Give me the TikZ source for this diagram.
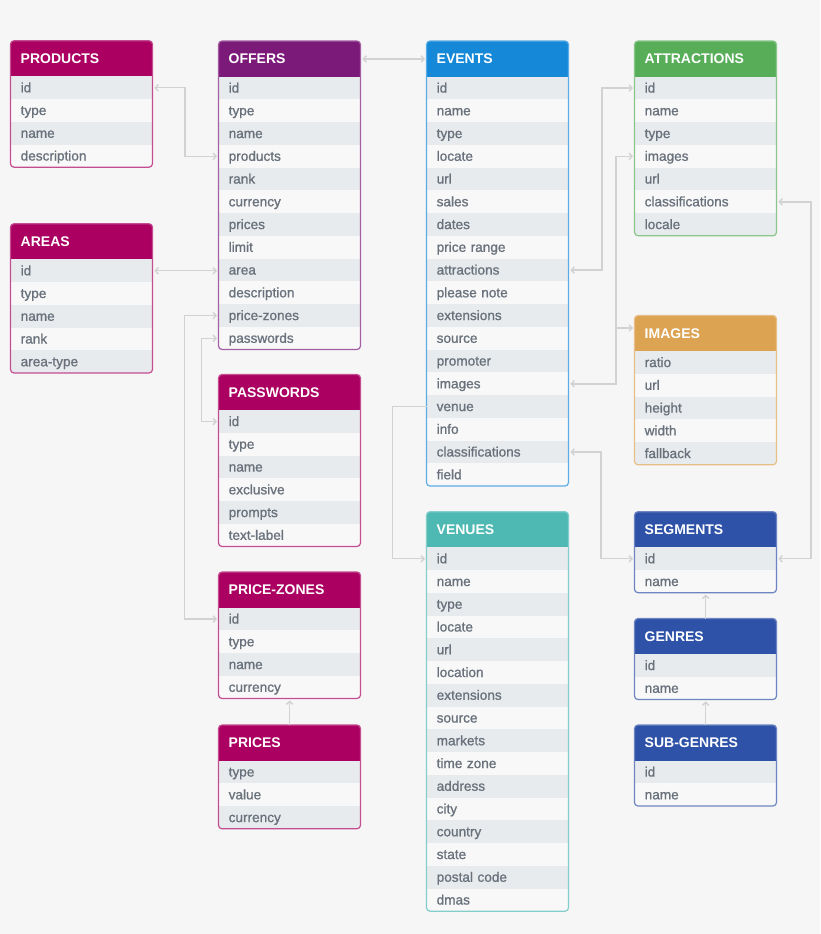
\documentclass[tikz,border=0pt]{standalone}
\usepackage{fontspec}
\setmainfont{Liberation Sans}
\newfontfamily\rowfont[FakeBold=1.1]{Liberation Sans}
\usetikzlibrary{arrows.meta,calc}

\definecolor{bgc}{HTML}{F6F6F6}
\definecolor{rowa}{HTML}{E8EBEE}
\definecolor{rowb}{HTML}{F8F8F8}
\definecolor{txt}{HTML}{69727C}
\definecolor{cmag}{HTML}{AB0062}
\definecolor{cpur}{HTML}{7C1A7A}
\definecolor{cblu}{HTML}{1588D8}
\definecolor{cgrn}{HTML}{58AE58}
\definecolor{corg}{HTML}{DCA353}
\definecolor{cteal}{HTML}{4EB9B3}
\definecolor{cnavy}{HTML}{2E52A8}
\definecolor{conn}{HTML}{D2D2D2}

\tikzset{
 hdr/.style={anchor=north west, minimum height=35.5pt, text width=122pt, inner xsep=10pt, inner ysep=0pt, align=left, text=white, font=\bfseries\fontsize{14}{16}\selectfont, text height=9.5pt, text depth=0pt},
 rowbox/.style={anchor=north west, minimum height=22.75pt, text width=122pt, inner xsep=10pt, inner ysep=0pt, align=left, text=txt, font=\rowfont\fontsize{13.6}{16}\selectfont, text height=10pt, text depth=1pt},
 link/.style={draw=conn, line width=1.4pt, {Straight Barb[length=3pt,width=6.5pt]}-{Straight Barb[length=3pt,width=6.5pt]}, shorten <=1.5pt, shorten >=1.5pt},
 linkto/.style={draw=conn, line width=1.4pt, -{Straight Barb[length=3pt,width=6.5pt]}, shorten >=1.5pt},
}

\newcommand\erdtable[7]{%
  \pgfmathsetmacro\erdbot{#3+35.5+#6*22.75}%
  \begin{scope}
    \clip[rounded corners=3.5pt] (#2,#3) rectangle (#2+142,\erdbot);
    \node[hdr, fill=#4] (#1) at (#2,#3) {#5};
    \foreach \rowname [count=\i] in {#7} {
      \pgfmathsetmacro\ry{#3+35.5+(\i-1)*22.75}
      \ifodd\i \def\rfill{rowa}\else \def\rfill{rowb}\fi
      \node[rowbox, fill=\rfill] (#1-\rowname) at (#2,\ry) {\rowname};
    }
  \end{scope}
  \draw[#4!70!white, line width=1.2pt, rounded corners=3.5pt] (#2,#3) rectangle (#2+142,\erdbot);
}

\begin{document}
\begin{tikzpicture}[x=1pt,y=-1pt]
\fill[bgc] (0,0) rectangle (820,934);
\useasboundingbox (0,0) rectangle (820,934);

\erdtable{products}{10.5}{40.7}{cmag}{PRODUCTS}{4}{id,type,name,description}
\erdtable{offers}{218.5}{41}{cpur}{OFFERS}{12}{id,type,name,products,rank,currency,prices,limit,area,description,price-zones,passwords}
\erdtable{events}{426.5}{41}{cblu}{EVENTS}{18}{id,name,type,locate,url,sales,dates,price range,attractions,please note,extensions,source,promoter,images,venue,info,classifications,field}
\erdtable{attractions}{634.5}{41}{cgrn}{ATTRACTIONS}{7}{id,name,type,images,url,classifications,locale}
\erdtable{areas}{10.5}{223.7}{cmag}{AREAS}{5}{id,type,name,rank,area-type}
\erdtable{images}{634.5}{315.5}{corg}{IMAGES}{5}{ratio,url,height,width,fallback}
\erdtable{passwords}{218.5}{374.5}{cmag}{PASSWORDS}{6}{id,type,name,exclusive,prompts,text-label}
\erdtable{price-zones}{218.5}{572}{cmag}{PRICE-ZONES}{4}{id,type,name,currency}
\erdtable{prices}{218.5}{725}{cmag}{PRICES}{3}{type,value,currency}
\erdtable{venues}{426.5}{511.7}{cteal}{VENUES}{16}{id,name,type,locate,url,location,extensions,source,markets,time zone,address,city,country,state,postal code,dmas}
\erdtable{segments}{634.5}{511.7}{cnavy}{SEGMENTS}{2}{id,name}
\erdtable{genres}{634.5}{618.5}{cnavy}{GENRES}{2}{id,name}
\erdtable{sub-genres}{634.5}{725}{cnavy}{SUB-GENRES}{2}{id,name}

\draw[link] (offers.east) -- (events.west);
\draw[link] (products-id.east) -- ([xshift=32pt]products-id.east) |- (offers-products.west);
\draw[link] (areas-id.east) -- (areas-id.east -| offers-area.west);
\draw[link] (offers-price-zones.west) -- ([xshift=-34pt]offers-price-zones.west) |- (price-zones-id.west);
\draw[link] (offers-passwords.west) -- ([xshift=-17pt]offers-passwords.west) |- (passwords-id.west);
\draw[link] (events-attractions.east) -- ([xshift=33pt]events-attractions.east) |- (attractions-id.west);
\draw[link] (events-images.east) -- ([xshift=47pt]events-images.east) |- (attractions-images.west);
\coordinate (imgjoin) at ($(images.north west)+(-19,12.5)$);
\draw[linkto] (imgjoin) -- (imgjoin -| images.west);
\draw[linkto] (events-venue.west) -- ([xshift=-34pt]events-venue.west) |- (venues-id.west);
\draw[link] (events-classifications.east) -- ([xshift=32pt]events-classifications.east) |- (segments-id.west);
\draw[link] (attractions-classifications.east) -- ([xshift=34pt]attractions-classifications.east) |- (segments-id.east);
\draw[linkto] (prices.north) -- (price-zones-currency.south);
\draw[linkto] (genres.north) -- (segments-name.south);
\draw[linkto] (sub-genres.north) -- (genres-name.south);
\end{tikzpicture}
\end{document}
